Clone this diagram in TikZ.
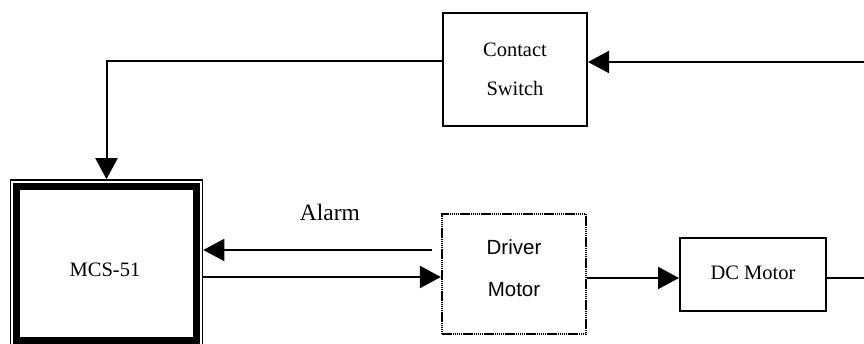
\documentclass[tikz,border=0pt]{standalone}
\usepackage{fontspec}
\setmainfont{Liberation Serif}
\newfontfamily\arialfont{Liberation Sans}
\usetikzlibrary{arrows.meta,calc}
\begin{document}
\begin{tikzpicture}[x=1pt,y=-1pt,
  plainbox/.style={draw,line width=2pt,inner sep=0pt},
  dotbox/.style={draw,line width=2.2pt,dash pattern=on 1.5pt off 0.6pt,inner sep=0pt},
  mcsbox/.style={draw,line width=1.6pt,inner sep=0pt},
  lbl/.style={inner sep=0pt,font=\fontsize{20.5}{24}\selectfont},
  sanslbl/.style={inner sep=0pt,font=\arialfont\fontsize{20.5}{24}\selectfont},
  wire/.style={line width=2pt},
  conn/.style={wire,-{Triangle[length=21pt,width=22pt]}}]
\useasboundingbox (0,0) rectangle (864,344);

% blocks
\node[plainbox,minimum width=144pt,minimum height=113pt] (sw) at (515,69.5) {};
\node[dotbox,minimum width=144pt,minimum height=120pt] (drv) at (514,274) {};
\node[plainbox,minimum width=146pt,minimum height=73pt] (dc) at (753,274.5) {};
\node[mcsbox,minimum width=192pt,minimum height=166pt] (mcs) at (106.5,263) {};
\draw[line width=7pt] ($(mcs.north west)+(7,7.5)$) rectangle ($(mcs.south east)+(-6.5,-6)$);

% labels
\node[lbl] (swa) at (515,50) {Contact};
\node[lbl] (swb) at (515,88) {Switch};
\node[sanslbl] (drva) at (514,247) {Driver};
\node[sanslbl] (drvb) at (514,290) {Motor};
\node[lbl] (dct) at (753,273) {DC Motor};
\node[lbl] (mcst) at (105,270) {MCS-51};
\node[lbl,font=\fontsize{23.5}{26}\selectfont] (alarm) at (330,212) {Alarm};

% connectors
\coordinate (outr) at (864,278);
\coordinate (inr) at (864,62);
\draw[conn,shorten <=9pt] (drv.west |- 0,250) -- (mcs.east |- 0,250);
\draw[conn] (mcs.east |- 0,277) -- (drv.west |- 0,277);
\draw[conn] (drv.east |- 0,278) -- (dc.west |- 0,278);
\draw[wire] (dc.east |- outr) -- (outr);
\draw[conn] (inr) -- (sw.east |- inr);
\draw[conn] (sw.west |- 0,61) -| (mcs.north);
\end{tikzpicture}
\end{document}
